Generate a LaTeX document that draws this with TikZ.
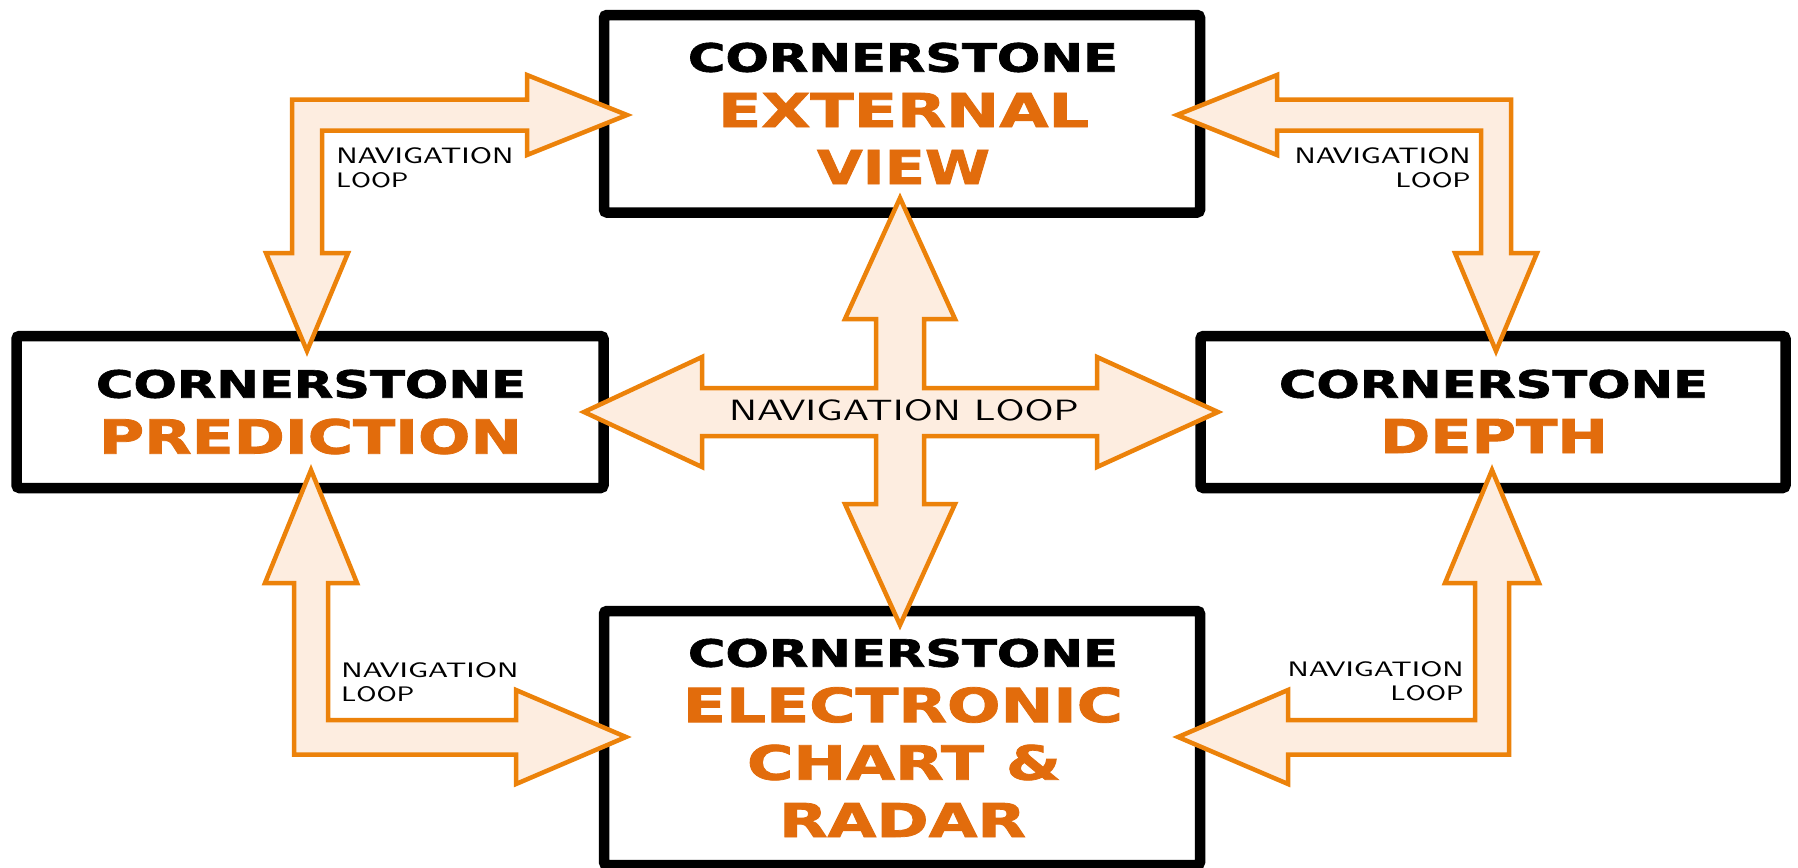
\documentclass[tikz,border=0pt]{standalone}
\usepackage{fontspec}
\usepackage{graphicx}
\newfontfamily\titlefont{DejaVu Sans}[BoldFeatures={FakeBold=1.6}]
\definecolor{arrowline}{RGB}{236,130,10}
\definecolor{arrowfill}{RGB}{253,237,224}
\definecolor{titleorange}{RGB}{226,108,12}
\newcommand{\ttl}[3]{\resizebox{#1}{#2}{\titlefont\bfseries #3}}
\newcommand{\hw}[3]{\resizebox{#1}{#2}{\sffamily #3}}
\begin{document}
\begin{tikzpicture}[x=0.5pt,y=-0.5pt,
  cbox/.style={draw=black,line width=5.25pt,rounded corners=1.5pt,inner sep=0pt,fill=white},
  tl/.style={inner sep=0pt,anchor=center},
  orangetext/.style={text=titleorange},
  blockarrow/.style={draw=arrowline,fill=arrowfill,line width=2.25pt,line join=miter},
  navlabel/.style={inner sep=0pt,font=\fontsize{8pt}{12pt}\selectfont}]
\useasboundingbox (0,0) rectangle (1798,867);
% boxes
\node[cbox,minimum width=298pt,minimum height=98.75pt] (ext) at (902,113.75) {};
\node[cbox,minimum width=293.5pt,minimum height=76pt] (pred) at (310,412) {};
\node[cbox,minimum width=292.5pt,minimum height=76pt] (depth) at (1493,412) {};
\node[cbox,minimum width=298pt,minimum height=127pt] (ecr) at (902,738) {};
% titles
\node[tl] (ext1) at (903,57.5) {\ttl{215pt}{14.5pt}{CORNERSTONE}};
\node[tl,orangetext] (ext2) at (903.5,110) {\ttl{185.5pt}{17pt}{EXTERNAL}};
\node[tl,orangetext] (ext3) at (903.5,167) {\ttl{86.5pt}{17pt}{VIEW}};
\node[tl] (pred1) at (311,384) {\ttl{215pt}{14pt}{CORNERSTONE}};
\node[tl,orangetext] (pred2) at (310.5,436.5) {\ttl{211.5pt}{17.5pt}{PREDICTION}};
\node[tl] (depth1) at (1493.5,384) {\ttl{214.5pt}{14pt}{CORNERSTONE}};
\node[tl,orangetext] (depth2) at (1494,436) {\ttl{114pt}{17pt}{DEPTH}};
\node[tl] (ecr1) at (903,653) {\ttl{215pt}{14pt}{CORNERSTONE}};
\node[tl,orangetext] (ecr2) at (903,705) {\ttl{220pt}{17.5pt}{ELECTRONIC}};
\node[tl,orangetext] (ecr3) at (904,762.5) {\ttl{157pt}{17.5pt}{CHART \&}};
\node[tl,orangetext] (ecr4) at (902.5,820) {\ttl{123.5pt}{17pt}{RADAR}};
% L-shaped arrows
\draw[blockarrow] (627,115) -- (527,155) -- (527,130.5) -- (322,130.5) -- (322,253) -- (348,253) -- (307,351) -- (266,253) -- (292,253) -- (292,99.5) -- (527,99.5) -- (527,75) -- cycle;
\draw[blockarrow] (1177,115) -- (1277,75) -- (1277,99.5) -- (1511,99.5) -- (1511,253) -- (1537,253) -- (1496,351) -- (1455,253) -- (1481,253) -- (1481,130.5) -- (1277,130.5) -- (1277,155) -- cycle;
\draw[blockarrow] (311,470) -- (357,583) -- (328,583) -- (328,720) -- (516,720) -- (516,690) -- (626,737) -- (516,784) -- (516,754.5) -- (294,754.5) -- (294,583) -- (265,583) -- cycle;
\draw[blockarrow] (1492,470) -- (1539,583) -- (1509,583) -- (1509,754.5) -- (1288,754.5) -- (1288,784) -- (1178,737) -- (1288,690) -- (1288,720) -- (1475,720) -- (1475,583) -- (1445,583) -- cycle;
% central cross arrow
\draw[blockarrow] (900,198) -- (955,319) -- (924,319) -- (924,388) -- (1097,388) -- (1097,357) -- (1218,412) -- (1097,467) -- (1097,436) -- (924,436) -- (924,504) -- (955,504) -- (900,625) -- (845,504) -- (876,504) -- (876,436) -- (702,436) -- (702,467) -- (584,412) -- (702,357) -- (702,388) -- (876,388) -- (876,319) -- (845,319) -- cycle;
% labels
\node[tl] (navC) at (904,410.5) {\hw{175pt}{10.5pt}{NAVIGATION LOOP}};
\node[navlabel,anchor=north west,align=left] (navTL) at (336,147) {\hw{88.5pt}{8pt}{NAVIGATION}\\\hw{36pt}{7.5pt}{LOOP}};
\node[navlabel,anchor=north east,align=right] (navTR) at (1471,147) {\hw{88pt}{8pt}{NAVIGATION}\\\hw{37.5pt}{7.5pt}{LOOP}};
\node[navlabel,anchor=north west,align=left] (navBL) at (341,662) {\hw{88.5pt}{7.5pt}{NAVIGATION}\\\hw{36.5pt}{7.5pt}{LOOP}};
\node[navlabel,anchor=north east,align=right] (navBR) at (1464,661) {\hw{88pt}{7.5pt}{NAVIGATION}\\\hw{36.5pt}{7.5pt}{LOOP}};
\end{tikzpicture}
\end{document}
